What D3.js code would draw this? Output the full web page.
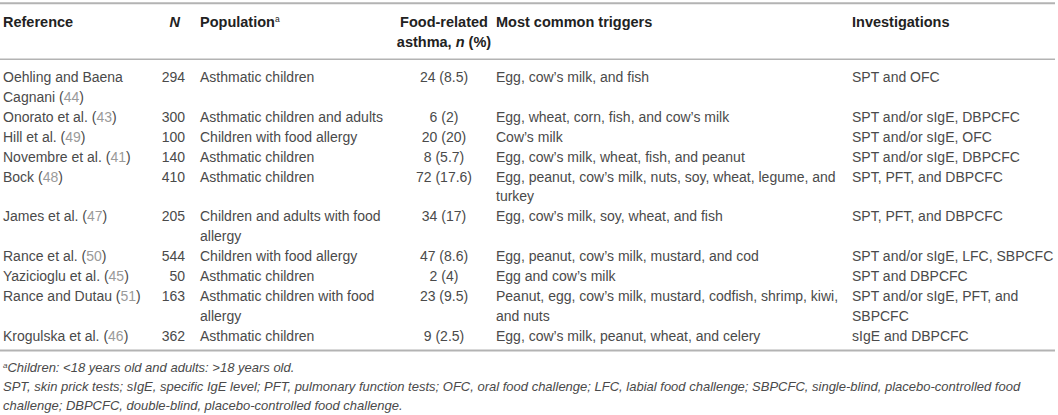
<!DOCTYPE html>
<html>
<head>
<meta charset="utf-8">
<script src="https://cdn.jsdelivr.net/npm/d3@7"></script>
<style>
  html, body { margin: 0; padding: 0; background: #fff; }
  svg { display: block; font-family: "Liberation Sans", Arial, Helvetica, sans-serif; }
</style>
</head>
<body>
<svg id="chart" width="1058" height="415"></svg>
<script>
// ---- data ----
const references = ["Oehling and Baena\nCagnani", "Onorato et al.", "Hill et al.", "Novembre et al.", "Bock",
  "James et al.", "Rance et al.", "Yazicioglu et al.", "Rance and Dutau", "Krogulska et al."];
const refNumbers = [44, 43, 49, 41, 48, 47, 50, 45, 51, 46];
const sampleN = [294, 300, 100, 140, 410, 205, 544, 50, 163, 362];
const populations = ["Asthmatic children", "Asthmatic children and adults", "Children with food allergy",
  "Asthmatic children", "Asthmatic children", "Children and adults with food\nallergy",
  "Children with food allergy", "Asthmatic children", "Asthmatic children with food\nallergy", "Asthmatic children"];
const foodCount = [24, 6, 20, 8, 72, 34, 47, 2, 23, 9];
const foodPercent = ["8.5", "2", "20", "5.7", "17.6", "17", "8.6", "4", "9.5", "2.5"];
const triggers = ["Egg, cow\u2019s milk, and fish", "Egg, wheat, corn, fish, and cow\u2019s milk", "Cow\u2019s milk",
  "Egg, cow\u2019s milk, wheat, fish, and peanut",
  "Egg, peanut, cow\u2019s milk, nuts, soy, wheat, legume, and\nturkey",
  "Egg, cow\u2019s milk, soy, wheat, and fish", "Egg, peanut, cow\u2019s milk, mustard, and cod",
  "Egg and cow\u2019s milk", "Peanut, egg, cow\u2019s milk, mustard, codfish, shrimp, kiwi,\nand nuts",
  "Egg, cow\u2019s milk, peanut, wheat, and celery"];
const investigations = ["SPT and OFC", "SPT and/or sIgE, DBPCFC", "SPT and/or sIgE, OFC", "SPT and/or sIgE, DBPCFC",
  "SPT, PFT, and DBPCFC", "SPT, PFT, and DBPCFC", "SPT and/or sIgE, LFC, SBPCFC", "SPT and DBPCFC",
  "SPT and/or sIgE, PFT, and\nSBPCFC", "sIgE and DBPCFC"];
const footnotes = ["Children: <18 years old and adults: >18 years old.",
  "SPT, skin prick tests; sIgE, specific IgE level; PFT, pulmonary function tests; OFC, oral food challenge; LFC, labial food challenge; SBPCFC, single-blind, placebo-controlled food",
  "challenge; DBPCFC, double-blind, placebo-controlled food challenge."];

// ---- layout ----
const svg = d3.select("#chart");
const ruleEnd = 1055;
const colKeys = ["ref", "n", "pop", "food", "trig", "inv"];
const colX = d3.scaleOrdinal().domain(colKeys).range([3, 185, 200, 444, 496, 852]);
const colAnchor = d3.scaleOrdinal().domain(colKeys).range(["start", "end", "start", "middle", "start", "start"]);

const bodyColor = "#4a4a4a", headColor = "#222", refColor = "#9a9a9a", ruleColor = "#b3b3b3";

// rows -> line indices
const rows = references.map((r, i) => {
  const cells = {
    ref: r.split("\n"),
    n: [String(sampleN[i])],
    pop: populations[i].split("\n"),
    food: [foodCount[i] + " (" + foodPercent[i] + ")"],
    trig: triggers[i].split("\n"),
    inv: investigations[i].split("\n")
  };
  const nLines = d3.max(Object.values(cells), c => c.length);
  return { i, cells, nLines };
});
let acc = 0;
rows.forEach(r => { r.start = acc; acc += r.nLines; });
const totalLines = acc;
const lineY = d3.scaleLinear().domain([0, totalLines - 1]).range([82, 340.7]);

// rules
const rules = [{ y: 3.3, w: 2 }, { y: 59.3, w: 1.5 }, { y: 350.5, w: 2 }];
svg.selectAll("line.rule").data(rules).join("line").attr("class", "rule")
  .attr("x1", 0).attr("x2", ruleEnd).attr("y1", d => d.y).attr("y2", d => d.y)
  .attr("stroke", ruleColor).attr("stroke-width", d => d.w);

// header
const headY = d3.scaleLinear().domain([0, 1]).range([26.5, 47]);
const head = svg.append("g").attr("font-weight", "bold").attr("font-size", 14.5).attr("fill", headColor);
head.append("text").attr("x", colX("ref")).attr("y", headY(0)).text("Reference");
head.append("text").attr("x", colX("n") - 5).attr("y", headY(0)).attr("text-anchor", "end")
  .attr("font-style", "italic").text("N");
const pop = head.append("text").attr("x", colX("pop")).attr("y", headY(0)).text("Population");
pop.append("tspan").attr("font-size", 8.5).attr("dy", -5).attr("font-weight", "normal").text("a");
head.append("text").attr("x", colX("food")).attr("y", headY(0)).attr("text-anchor", "middle").text("Food-related");
const t2 = head.append("text").attr("x", colX("food")).attr("y", headY(1)).attr("text-anchor", "middle");
t2.append("tspan").text("asthma, ");
t2.append("tspan").attr("font-style", "italic").text("n");
t2.append("tspan").text(" (%)");
head.append("text").attr("x", colX("trig")).attr("y", headY(0)).text("Most common triggers");
head.append("text").attr("x", colX("inv")).attr("y", headY(0)).text("Investigations");

// body
const body = svg.append("g").attr("font-size", 14).attr("fill", bodyColor);
rows.forEach(r => {
  colKeys.forEach(k => {
    const lines = r.cells[k];
    lines.forEach((ln, j) => {
      const t = body.append("text")
        .attr("x", colX(k))
        .attr("y", lineY(r.start + j))
        .attr("text-anchor", colAnchor(k))
        .text(ln);
      if (k === "ref" && j === lines.length - 1) {
        t.text(ln + " (");
        t.append("tspan").attr("fill", refColor).text(refNumbers[r.i]);
        t.append("tspan").text(")");
      }
    });
  });
});

// footnotes
const footY = d3.scaleLinear().domain([0, footnotes.length - 1]).range([371.5, 409.5]);
const foot = svg.append("g").attr("font-size", 13).attr("font-style", "italic").attr("fill", bodyColor);
footnotes.forEach((f, i) => {
  const t = foot.append("text").attr("x", colX("ref")).attr("y", footY(i));
  if (i === 0) {
    t.append("tspan").attr("font-size", 8).attr("dy", -4).text("a");
    t.append("tspan").attr("dy", 4).text(f);
  } else {
    t.text(f);
  }
});
</script>
</body>
</html>
